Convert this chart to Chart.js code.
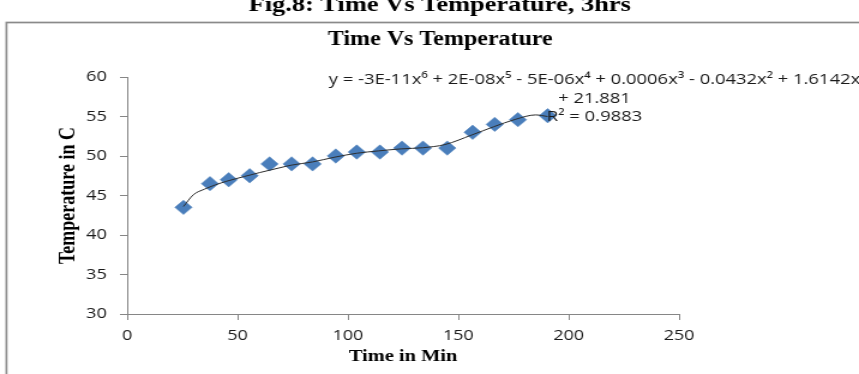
<!DOCTYPE html>
<html>
<head>
<meta charset="utf-8">
<script src="https://cdn.jsdelivr.net/npm/chart.js@4"></script>
<style>
  html, body { margin: 0; padding: 0; background: #fff; overflow: hidden; }
  /* reference is horizontally stretched, so the canvas is drawn narrow and widened */
  #chart { display: block; width: 859px; height: 374px; }
</style>
</head>
<body>
<canvas id="chart" width="716" height="374" style="width:859px;height:374px"></canvas>
<script>
// Measured points (time in min, temperature in C)
const timeMin = [25.5, 37.5, 46, 55.5, 64.5, 74.5, 84, 94.5, 104, 114.5, 124.5, 134, 145, 156.5, 166.5, 177, 190.5];
const tempC = [43.5, 46.5, 47, 47.5, 49, 49, 49, 50, 50.5, 50.5, 51, 51, 51, 53, 54, 54.6, 55.1];

// Poly trendline
const trendX = [25.5, 30, 35, 40, 45, 53, 60, 69, 74.5, 84, 94, 104, 114, 124, 134, 144, 156, 166, 176, 185, 190.5];
const trendY = [43.6, 45.1, 45.8, 46.35, 46.8, 47.4, 47.9, 48.5, 48.85, 49.25, 49.85, 50.35, 50.65, 50.9, 51.05, 51.45, 52.65, 53.7, 54.65, 55.2, 55.0];

const xTicks = [0, 50, 100, 150, 200, 250];
const yTicks = [30, 35, 40, 45, 50, 55, 60];

const figTitle = 'Fig.8: Time Vs Temperature, 3hrs';
const chartTitle = 'Time Vs Temperature';
const equation = [
    'y = -3E-11x\u2076 + 2E-08x\u2075 - 5E-06x\u2074 + 0.0006x\u00b3 - 0.0432x\u00b2 + 1.6142x',
    '+ 21.881',
    'R\u00b2 = 0.9883'
];

const colors = {
    marker: '#4a7ebb',
    trend: '#2e2e2e',
    axis: '#868686',
    frame: '#8a8a8a',
    text: '#1a1a1a',
};

const serif = '"Liberation Serif", "Times New Roman", serif';
const sans = '"Open Sans", "Liberation Sans", sans-serif';

// Frame, titles and trendline label
const pageText = {
    id: 'pageText',
    beforeDraw(chart) {
        const ctx = chart.ctx;
        ctx.save();
        ctx.fillStyle = '#fff';
        ctx.fillRect(0, 0, chart.width, chart.height);
        ctx.strokeStyle = colors.frame;
        ctx.lineWidth = 1.7;
        ctx.strokeRect(5.4, 22.5, chart.width + 20, chart.height + 20);

        ctx.fillStyle = '#000';
        ctx.textAlign = 'center';
        ctx.textBaseline = 'alphabetic';
        ctx.font = 'bold 22px ' + serif;
        ctx.fillText(figTitle, 366.5, 11);
        ctx.textBaseline = 'middle';
        ctx.font = 'bold 20px ' + serif;
        ctx.fillText(chartTitle, 367, 40);
        ctx.restore();
    },
    afterDatasetsDraw(chart) {
        const ctx = chart.ctx;
        ctx.save();
        ctx.fillStyle = colors.text;
        ctx.textAlign = 'center';
        ctx.textBaseline = 'middle';
        ctx.font = '14px ' + sans;
        const size = 14 * 443 / ctx.measureText(equation[0]).width;
        ctx.font = size.toFixed(2) + 'px ' + sans;
        const cx = 495.5;
        ctx.fillText(equation[0], cx, 80);
        ctx.fillText(equation[1], cx, 99);
        ctx.fillText(equation[2], cx, 117);
        ctx.restore();
    }
};

// diamond markers
const points = timeMin.map((t, i) => ({ x: t, y: tempC[i] }));
const trend = trendX.map((t, i) => ({ x: t, y: trendY[i] }));

const chart = new Chart(document.getElementById('chart'), {
    type: 'scatter',
    data: {
        datasets: [
            {
                label: 'Poly. trend',
                type: 'line',
                data: trend,
                borderColor: colors.trend,
                borderWidth: 1,
                pointRadius: 0,
                fill: false,
                cubicInterpolationMode: 'monotone',
                order: 0,
            },
            {
                label: 'Temperature',
                data: points,
                pointStyle: 'rectRot',
                pointRadius: 7.2,
                pointHoverRadius: 7.2,
                backgroundColor: colors.marker,
                borderColor: colors.marker,
                borderWidth: 0.5,
                order: 1,
            }
        ]
    },
    options: {
        responsive: false,
        animation: false,
        devicePixelRatio: 1,
        layout: { padding: { left: 0, right: 150, top: 77, bottom: 0 } },
        plugins: {
            legend: { display: false },
            tooltip: { enabled: false },
            title: { display: false },
        },
        scales: {
            x: {
                type: 'linear',
                min: 0,
                max: 250,
                afterBuildTicks: s => { s.ticks = xTicks.map(v => ({ value: v })); },
                afterFit: s => { s.height = 60; },
                ticks: { color: colors.text, padding: 7, font: { family: sans, size: 15 } },
                grid: { drawOnChartArea: false, drawTicks: true, tickLength: 6, color: colors.axis },
                border: { color: colors.axis },
                title: {
                    display: true,
                    text: 'Time in Min',
                    color: '#000',
                    font: { family: serif, size: 17, weight: 'bold' },
                    padding: { top: 0, bottom: 7.5 },
                },
            },
            y: {
                type: 'linear',
                min: 30,
                max: 60,
                afterBuildTicks: s => { s.ticks = yTicks.map(v => ({ value: v })); },
                afterFit: s => { s.width = 106; },
                ticks: { color: colors.text, padding: 11, font: { family: sans, size: 15 } },
                grid: { drawOnChartArea: false, drawTicks: true, tickLength: 6, color: colors.axis },
                border: { color: colors.axis },
                title: {
                    display: true,
                    text: 'Temperature in C',
                    color: '#000',
                    font: { family: serif, size: 18, weight: 'bold' },
                    padding: { top: 46.4, bottom: 0 },
                },
            }
        }
    },
    plugins: [pageText]
});
</script>
</body>
</html>
